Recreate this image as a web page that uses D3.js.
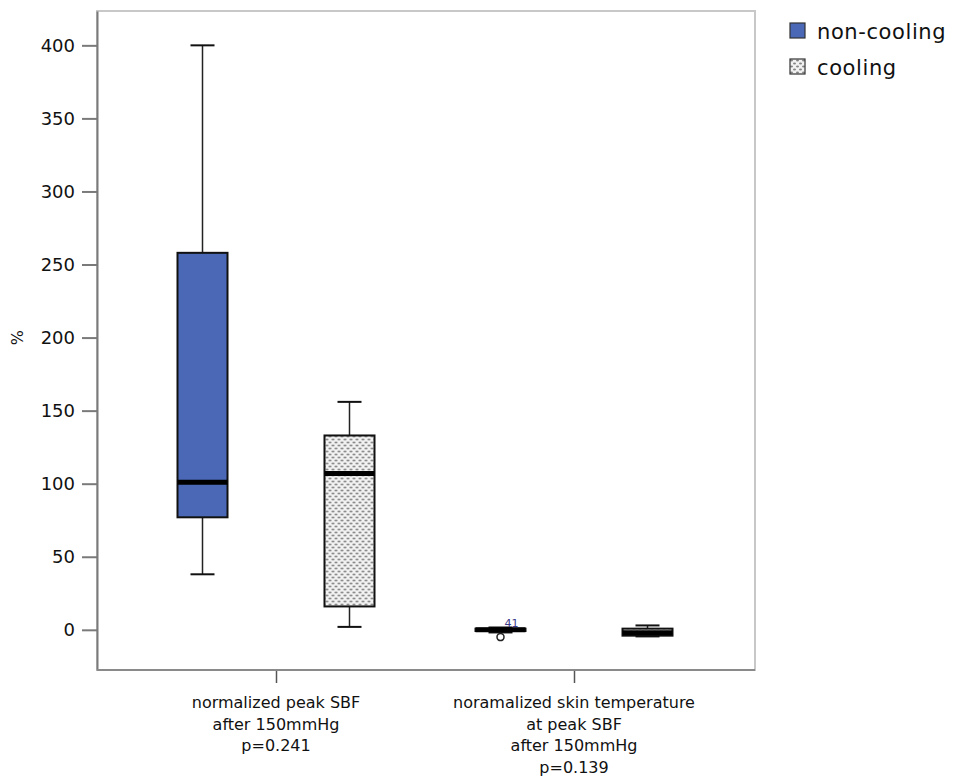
<!DOCTYPE html>
<html>
<head>
<meta charset="utf-8">
<script src="https://cdn.jsdelivr.net/npm/d3@7"></script>
<style>
  body { margin: 0; background: #fff; }
  text { font-family: "DejaVu Sans", sans-serif; }
</style>
</head>
<body>
<div id="container"></div>
<script>
/* CONSTANTS AND GLOBALS */
const width = 966,
  height = 777,
  margin = {top: 11, left: 97, bottom: 107, right: 211};

/* DATA */
const categories = [
  ["normalized peak SBF", "after 150mmHg", "p=0.241"],
  ["noramalized skin temperature", "at peak SBF", "after 150mmHg", "p=0.139"]
];
const groups = ["non-cooling", "cooling"];
const yTicks = [0, 50, 100, 150, 200, 250, 300, 350, 400];

// box stats per category: [low whisker, q1, median, q3, high whisker]
const nonCooling = [
  [38, 77, 101, 258, 400],
  [-1.8, -0.8, 0, 0.8, 1.6]
];
const cooling = [
  [2, 16, 107, 133, 156],
  [-4.5, -4, -2, 0.8, 3]
];
// outliers: [category index, group index, value, label]
const outliers = [
  [1, 0, -5, "41"]
];

const boxes = [];
categories.forEach((c, i) => {
  [nonCooling, cooling].forEach((s, g) => {
    const v = s[i];
    boxes.push({cat: i, group: groups[g], lo: v[0], q1: v[1], med: v[2], q3: v[3], hi: v[4]});
  });
});

/* SVG */
const svg = d3.select("#container")
  .append("svg")
  .attr("width", width)
  .attr("height", height);

// dotted pattern for the cooling boxes
const defs = svg.append("defs");
const pat = defs.append("pattern")
  .attr("id", "dots")
  .attr("patternUnits", "userSpaceOnUse")
  .attr("width", 6)
  .attr("height", 6);
pat.append("rect").attr("width", 6).attr("height", 6).attr("fill", "#f2f2f2");
pat.append("ellipse").attr("cx", 1.5).attr("cy", 1.5).attr("rx", 1.5).attr("ry", 0.9).attr("fill", "#858585");
pat.append("ellipse").attr("cx", 4.5).attr("cy", 4.5).attr("rx", 1.5).attr("ry", 0.9).attr("fill", "#858585");

const fills = {"non-cooling": "#4a68b6", "cooling": "url(#dots)"};

// SCALES
const plotRight = width - margin.right;
const xScale = d3.scalePoint()
  .domain(d3.range(categories.length))
  .range([276, 574]);

const xInner = d3.scalePoint()
  .domain(groups)
  .range([-73.5, 73.5]);

const yScale = d3.scaleLinear()
  .domain([-27.5, 423.5])
  .range([height - margin.bottom, margin.top]);

const bottom = height - margin.bottom; // 670
const boxW = 50, capW = 24;

// frame (top/right lighter)
svg.append("rect")
  .attr("x", margin.left)
  .attr("y", margin.top)
  .attr("width", plotRight - margin.left)
  .attr("height", bottom - margin.top)
  .attr("fill", "none")
  .attr("stroke", "#c8c8c8")
  .attr("stroke-width", 2);

// AXES
const yAxis = d3.axisLeft(yScale)
  .tickValues(yTicks)
  .tickSizeInner(15)
  .tickSizeOuter(0)
  .tickPadding(7);

const gy = svg.append("g")
  .attr("transform", `translate(${margin.left},0)`)
  .call(yAxis);
gy.select(".domain").attr("stroke", "#7a7a7a").attr("stroke-width", 2);
gy.selectAll(".tick line").attr("stroke", "#7a7a7a").attr("stroke-width", 2);
gy.selectAll(".tick text").attr("font-size", 18).attr("fill", "#111");

const xAxis = d3.axisBottom(xScale)
  .tickSizeInner(13)
  .tickSizeOuter(0)
  .tickFormat("");

const gx = svg.append("g")
  .attr("transform", `translate(0,${bottom})`)
  .call(xAxis);
gx.select(".domain").remove();
gx.append("line")
  .attr("x1", margin.left).attr("x2", plotRight)
  .attr("stroke", "#8a8a8a").attr("stroke-width", 2);
gx.selectAll(".tick line").attr("stroke", "#555").attr("stroke-width", 1.5);

// category labels
categories.forEach((lines, i) => {
  const t = svg.append("text")
    .attr("x", xScale(i))
    .attr("y", 708)
    .attr("text-anchor", "middle")
    .attr("font-size", 16)
    .attr("fill", "#111");
  lines.forEach((l, k) => {
    t.append("tspan").attr("x", xScale(i)).attr("dy", k === 0 ? 0 : 21.5).text(l);
  });
});

// y label
svg.append("text")
  .attr("transform", `translate(23,${yScale(200)}) rotate(-90)`)
  .attr("text-anchor", "middle")
  .attr("font-size", 16)
  .attr("fill", "#111")
  .text("%");

// BOXES
const bx = svg.selectAll(".box")
  .data(boxes)
  .join("g")
  .attr("class", "box")
  .attr("transform", d => `translate(${xScale(d.cat) + xInner(d.group)},0)`);

// whiskers
bx.append("line")
  .attr("y1", d => yScale(d.lo)).attr("y2", d => yScale(d.hi))
  .attr("stroke", "#222").attr("stroke-width", 1.5);
bx.selectAll(".cap")
  .data(d => [d.lo, d.hi])
  .join("line")
  .attr("class", "cap")
  .attr("x1", -capW / 2).attr("x2", capW / 2)
  .attr("y1", v => yScale(v)).attr("y2", v => yScale(v))
  .attr("stroke", "#111").attr("stroke-width", 2);

bx.append("rect")
  .attr("x", -boxW / 2)
  .attr("width", boxW)
  .attr("y", d => yScale(d.q3))
  .attr("height", d => Math.max(1, yScale(d.q1) - yScale(d.q3)))
  .attr("fill", d => fills[d.group])
  .attr("stroke", "#111")
  .attr("stroke-width", 2);

bx.append("line")
  .attr("x1", -boxW / 2).attr("x2", boxW / 2)
  .attr("y1", d => yScale(d.med)).attr("y2", d => yScale(d.med))
  .attr("stroke", "#000").attr("stroke-width", 5);

// outliers
outliers.forEach(o => {
  const cx = xScale(o[0]) + xInner(groups[o[1]]);
  svg.append("circle")
    .attr("cx", cx).attr("cy", yScale(o[2]))
    .attr("r", 3.5)
    .attr("fill", "#fff")
    .attr("stroke", "#222")
    .attr("stroke-width", 1.5);
  svg.append("text")
    .attr("x", cx + 4).attr("y", yScale(o[2]) - 10)
    .attr("font-size", 11)
    .attr("fill", "#3a3a8a")
    .text(o[3]);
});

// LEGEND
const legend = svg.append("g")
  .attr("transform", "translate(790,23)");
const li = legend.selectAll(".item")
  .data(groups)
  .join("g")
  .attr("class", "item")
  .attr("transform", (d, i) => `translate(0,${i * 36})`);
li.append("rect")
  .attr("width", 15).attr("height", 15)
  .attr("fill", d => fills[d])
  .attr("stroke", "#333").attr("stroke-width", 1.2);
li.append("text")
  .attr("x", 27).attr("y", 16)
  .attr("font-size", 21)
  .attr("letter-spacing", 0.6)
  .attr("fill", "#111")
  .text(d => d);
</script>
</body>
</html>
